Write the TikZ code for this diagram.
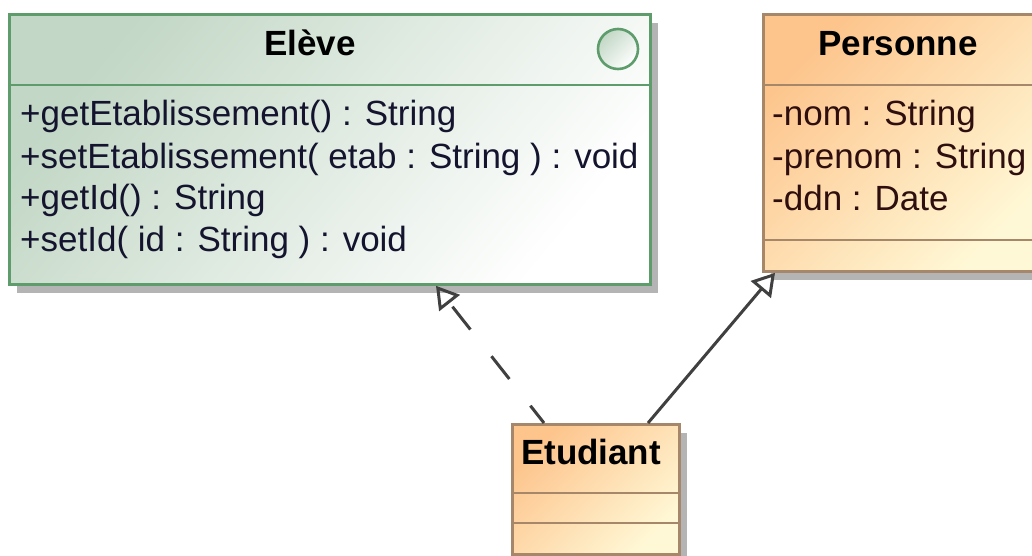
\documentclass[tikz,border=0pt]{standalone}
\usepackage{fontspec}
\setmainfont{Liberation Sans}
\usetikzlibrary{arrows.meta,shadows,calc}

\definecolor{ifacefill}{HTML}{C2D7C5}
\definecolor{ifaceborder}{HTML}{5E9C6C}
\definecolor{classfill}{HTML}{FDC48C}
\definecolor{classfill2}{HTML}{FFF8D6}
\definecolor{classborder}{HTML}{A7876A}
\definecolor{shadowgray}{HTML}{B4B4B4}
\definecolor{linkgray}{HTML}{404040}
\definecolor{methodtext}{HTML}{14142E}
\definecolor{attrtext}{HTML}{2E0E0E}

\tikzset{
  boxshadow/.style={general shadow={fill=shadowgray, shadow xshift=8pt, shadow yshift=-9pt}},
  ifacebox/.style={rectangle, draw=ifaceborder, line width=2.8pt, anchor=north west,
    top color=ifacefill, bottom color=white, shading angle=50, boxshadow, inner sep=0pt},
  classbox/.style={rectangle, draw=classborder, line width=2.8pt, anchor=north west,
    top color=classfill, bottom color=classfill2, shading angle=45, boxshadow, inner sep=0pt},
  title/.style={font=\fontsize{35}{42}\selectfont\bfseries, anchor=base, inner sep=0pt},
  member/.style={font=\fontsize{35}{42}\selectfont, anchor=base west, inner sep=0pt},
  ifacesep/.style={draw=ifaceborder, line width=2.4pt},
  classsep/.style={draw=classborder, line width=2.4pt},
  realize/.style={draw=linkgray, line width=3pt, dash pattern=on 29pt off 34pt, dash phase=7pt,
    -{Triangle[open, length=22pt, width=26pt, line width=3pt]}},
  inherit/.style={draw=linkgray, line width=3pt,
    -{Triangle[open, length=22pt, width=26pt, line width=3pt]}},
}

\begin{document}
\begin{tikzpicture}[x=1pt, y=-1pt]
  \clip (0,0) rectangle (1032,556);

  % interface Eleve
  \node[ifacebox, minimum width=641pt, minimum height=270pt] (eleve) at (8,13) {};
  \draw[ifacesep] (8,85) -- (649,85);
  \node[circle, draw=ifaceborder, line width=2.6pt, minimum size=40pt, inner sep=0pt,
        top color=ifacefill, bottom color=white, shading angle=45] (stereo) at (618,49) {};
  \node[title] (eleveT) at (310,56) {Elève};
  \node[member, text=methodtext] (m1) at (20,126) {+getEtablissement() : String};
  \node[member, text=methodtext] (m2) at (20,168) {+setEtablissement( etab : String ) : void};
  \node[member, text=methodtext] (m3) at (20,209) {+getId() : String};
  \node[member, text=methodtext] (m4) at (20,251) {+setId( id : String ) : void};

  % class Personne
  \node[classbox, minimum width=276pt, minimum height=257pt] (personne) at (762,13) {};
  \draw[classsep] (762,85) -- (1040,85);
  \draw[classsep] (762,240) -- (1040,240);
  \node[title] (personneT) at (898,56) {Personne};
  \node[member, text=attrtext] (a1) at (772,126) {-nom : String};
  \node[member, text=attrtext] (a2) at (772,168) {-prenom : String};
  \node[member, text=attrtext] (a3) at (772,210) {-ddn : Date};

  % class Etudiant
  \node[classbox, minimum width=167pt, minimum height=130pt] (etud) at (511,423) {};
  \draw[classsep] (511,493) -- (678,493);
  \draw[classsep] (511,523) -- (678,523);
  \node[title] (etudT) at (591,464) {Etudiant};

  % connectors
  \coordinate (etudL) at ($(etud.north west)+(33,0)$);
  \coordinate (etudR) at ($(etud.north west)+(137,0)$);
  \coordinate (eleveIn) at ($(eleve.south west)+(428,0)$);
  \coordinate (persIn) at ($(personne.south west)+(13,0)$);
  \draw[realize] (etudL) -- (eleveIn);
  \draw[inherit] (etudR) -- (persIn);
\end{tikzpicture}
\end{document}
